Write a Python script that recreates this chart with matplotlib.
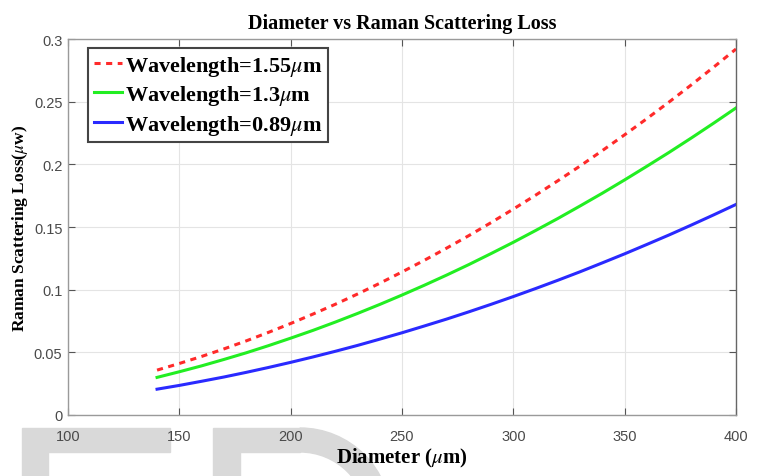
import numpy as np
import matplotlib.pyplot as plt
from matplotlib.patches import Rectangle, Wedge

# ------------------------------------------------------------------------------
# Data
# ------------------------------------------------------------------------------
diameter = [140, 150, 160, 170, 180, 190, 200, 210, 220, 230, 240, 250, 260,
            270, 280, 290, 300, 310, 320, 330, 340, 350, 360, 370, 380, 390,
            400]
loss_155 = [0.0358, 0.0411, 0.0467, 0.0527, 0.0591, 0.0659, 0.0730, 0.0805,
            0.0883, 0.0965, 0.1051, 0.1141, 0.1234, 0.1331, 0.1431, 0.1535,
            0.1643, 0.1754, 0.1869, 0.1987, 0.2110, 0.2236, 0.2365, 0.2498,
            0.2635, 0.2776, 0.2920]
loss_13 = [0.0300, 0.0345, 0.0392, 0.0443, 0.0496, 0.0553, 0.0613, 0.0675,
           0.0741, 0.0810, 0.0882, 0.0957, 0.1035, 0.1116, 0.1200, 0.1288,
           0.1378, 0.1472, 0.1568, 0.1668, 0.1770, 0.1876, 0.1985, 0.2096,
           0.2211, 0.2329, 0.2450]
loss_089 = [0.0206, 0.0236, 0.0269, 0.0303, 0.0340, 0.0379, 0.0420, 0.0463,
            0.0508, 0.0555, 0.0605, 0.0656, 0.0710, 0.0765, 0.0823, 0.0883,
            0.0945, 0.1009, 0.1075, 0.1143, 0.1214, 0.1286, 0.1361, 0.1437,
            0.1516, 0.1597, 0.1680]
labels = [r'Wavelength=1.55$\mu$m', r'Wavelength=1.3$\mu$m',
          r'Wavelength=0.89$\mu$m']
x_ticks = [100, 150, 200, 250, 300, 350, 400]
y_ticks = [0, 0.05, 0.1, 0.15, 0.2, 0.25, 0.3]
y_tick_labels = ['0', '0.05', '0.1', '0.15', '0.2', '0.25', '0.3']

plt.rcParams['mathtext.fontset'] = 'stix'
serif = 'Liberation Serif'
sans = 'Liberation Sans'

fig = plt.figure(figsize=(7.63, 4.77), dpi=100)

# ------------------------------------------------------------------------------
# Faint watermark shapes at the bottom (display pixels)
# ------------------------------------------------------------------------------
wm = '#d9d9d9'
fig.add_artist(Rectangle((22, 24), 148, 24, transform=None, color=wm, zorder=-5))
fig.add_artist(Rectangle((22, 0), 26, 24, transform=None, color=wm, zorder=-5))
fig.add_artist(Rectangle((213, 0), 27, 48, transform=None, color=wm, zorder=-5))
fig.add_artist(Rectangle((240, 24), 60, 24, transform=None, color=wm, zorder=-5))
fig.add_artist(Wedge((300, -43), 91, 0, 90, width=24, transform=None,
                     color=wm, zorder=-5))

ax = fig.add_axes([0.0891, 0.1279, 0.8755, 0.7882])
ax.set_facecolor('white')

ax.plot(diameter, loss_155, color='#ff2a2a', lw=2.2, linestyle=(0, (2, 1.8)),
        label=labels[0])
ax.plot(diameter, loss_13, color='#22ee22', lw=2.2, label=labels[1])
ax.plot(diameter, loss_089, color='#2a2aff', lw=2.2, label=labels[2])

ax.set_xlim(100, 400)
ax.set_ylim(0, 0.3)
ax.set_xticks(x_ticks)
ax.set_xticklabels([str(v) for v in x_ticks], family=sans, fontsize=10.5,
                   color='#4a4a4a')
ax.set_yticks(y_ticks)
ax.set_yticklabels(y_tick_labels, family=sans, fontsize=10.5, color='#4a4a4a')
ax.tick_params(axis='x', direction='in', length=5, color='#555555', pad=10,
               top=True)
ax.tick_params(axis='y', direction='in', length=5, color='#555555', pad=4,
               right=True)
ax.grid(True, color='#e4e4e4', lw=0.8)
ax.set_axisbelow(True)
for side in ['left', 'bottom', 'top']:
    ax.spines[side].set_color('#9a9a9a')
ax.spines['right'].set_color('#666666')
for sp in ax.spines.values():
    sp.set_linewidth(1.0)

ax.set_title('Diameter vs Raman Scattering Loss', family=serif,
             fontweight='bold', fontsize=14.5, pad=8)
ax.set_xlabel(r'Diameter ($\mu$m)', family=serif, fontweight='bold',
              fontsize=15, labelpad=2)
ax.set_ylabel(r'Raman Scattering Loss($\mu$w)', family=serif,
              fontweight='bold', fontsize=12.5, labelpad=3)

leg = ax.legend(loc='upper left', bbox_to_anchor=(0.03, 0.976),
                borderaxespad=0, fancybox=False, handlelength=1.3,
                handletextpad=0.1, labelspacing=0.25, borderpad=0.25,
                prop={'family': serif, 'weight': 'bold', 'size': 16})
leg.get_frame().set_edgecolor('#444444')
leg.get_frame().set_linewidth(1.5)
leg.get_frame().set_alpha(1)

fig.savefig('out.png', dpi=100)
